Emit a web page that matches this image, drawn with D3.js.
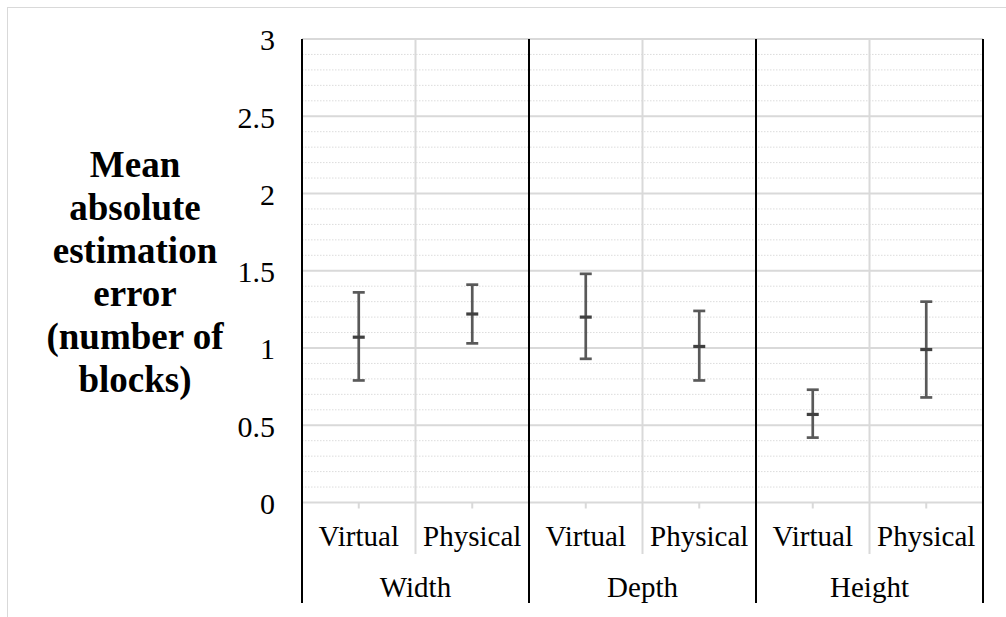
<!DOCTYPE html>
<html>
<head>
<meta charset="utf-8">
<script src="https://cdn.jsdelivr.net/npm/d3@7"></script>
<style>
  html, body { margin: 0; background: #fff; overflow: hidden; }
  svg { display: block; font-family: "Liberation Serif", "Times New Roman", serif; }
</style>
</head>
<body>
<svg id="chart" width="1006" height="617"></svg>
<script>
// ---------------- DATA ----------------
const groups = ["Width", "Depth", "Height"];
const conditions = ["Virtual", "Physical"];
// one value per group x condition, in order Width V/P, Depth V/P, Height V/P
const meanError = [1.07, 1.22, 1.20, 1.01, 0.57, 0.99];
const lowerBound = [0.79, 1.03, 0.93, 0.79, 0.42, 0.68];
const upperBound = [1.36, 1.41, 1.48, 1.24, 0.73, 1.30];
const yTicks = [0, 0.5, 1, 1.5, 2, 2.5, 3];
const yTickLabels = ["0", "0.5", "1", "1.5", "2", "2.5", "3"];
const yTitleLines = ["Mean", "absolute", "estimation", "error", "(number of", "blocks)"];

const svg = d3.select("#chart");
const serif = "'Liberation Serif', 'Times New Roman', serif";

// plot area
const plotLeft = 302, plotRight = 983, plotTop = 39, plotBottom = 502.5;

const x = d3.scaleBand().domain(groups).range([plotLeft, plotRight]);
const xInner = d3.scaleBand().domain(conditions).range([0, x.bandwidth()]);
const y = d3.scaleLinear().domain([0, 3]).range([plotBottom, plotTop]);

const points = [];
groups.forEach((g, gi) => {
  conditions.forEach((c, ci) => {
    const i = gi * conditions.length + ci;
    points.push({ group: g, cond: c, mean: meanError[i], lo: lowerBound[i], hi: upperBound[i] });
  });
});
const cx = d => x(d.group) + xInner(d.cond) + xInner.bandwidth() / 2;

// ---------------- OUTER BORDER ----------------
svg.append("rect")
  .attr("x", 7.5).attr("y", 7.5)
  .attr("width", 1010).attr("height", 620)
  .attr("fill", "none")
  .attr("stroke", "#d9d9d9");

// ---------------- MINOR GRIDLINES ----------------
const minor = d3.range(0, 3.001, 0.1).filter(v => Math.abs(v * 2 - Math.round(v * 2)) > 1e-6);
svg.append("g").selectAll("line")
  .data(minor)
  .join("line")
  .attr("x1", plotLeft).attr("x2", plotRight)
  .attr("y1", d => y(d)).attr("y2", d => y(d))
  .attr("stroke", "#dcdcdc")
  .attr("stroke-width", 1)
  .attr("stroke-dasharray", "1.5,1.5");

// ---------------- MAJOR GRIDLINES ----------------
svg.append("g").selectAll("line")
  .data(yTicks)
  .join("line")
  .attr("x1", plotLeft).attr("x2", plotRight)
  .attr("y1", d => y(d)).attr("y2", d => y(d))
  .attr("stroke", "#d9d9d9")
  .attr("stroke-width", 2);

// gray separators between Virtual and Physical
svg.append("g").selectAll("line")
  .data(groups)
  .join("line")
  .attr("x1", d => x(d) + xInner("Physical"))
  .attr("x2", d => x(d) + xInner("Physical"))
  .attr("y1", plotTop).attr("y2", 554)
  .attr("stroke", "#d9d9d9")
  .attr("stroke-width", 2);

// small ticks under each category
svg.append("g").selectAll("line")
  .data(points)
  .join("line")
  .attr("x1", cx).attr("x2", cx)
  .attr("y1", plotBottom).attr("y2", plotBottom + 6)
  .attr("stroke", "#d9d9d9")
  .attr("stroke-width", 2);

// black group separators
const groupEdges = groups.map(g => x(g)).concat([plotRight]);
svg.append("g").selectAll("line")
  .data(groupEdges)
  .join("line")
  .attr("x1", d => d).attr("x2", d => d)
  .attr("y1", plotTop).attr("y2", 603)
  .attr("stroke", "#000")
  .attr("stroke-width", 2);

// ---------------- Y AXIS LABELS ----------------
const yAxis = svg.append("g")
  .attr("transform", `translate(${plotLeft},0)`)
  .call(d3.axisLeft(y).tickValues(yTicks).tickSize(0).tickPadding(27)
    .tickFormat((d, i) => yTickLabels[i]));
yAxis.select(".domain").remove();
yAxis.selectAll("text")
  .attr("font-family", serif)
  .attr("font-size", 30)
  .attr("fill", "#000")
  .attr("dy", "0.36em");

// y title
svg.append("text")
  .attr("text-anchor", "middle")
  .attr("font-family", serif)
  .attr("font-size", 37)
  .attr("font-weight", "bold")
  .attr("fill", "#000")
  .selectAll("tspan")
  .data(yTitleLines)
  .join("tspan")
  .attr("x", 135)
  .attr("y", (d, i) => 177 + i * 43)
  .text(d => d);

// ---------------- X LABELS ----------------
svg.append("g").selectAll("text")
  .data(points)
  .join("text")
  .attr("x", cx)
  .attr("y", 546)
  .attr("text-anchor", "middle")
  .attr("font-family", serif)
  .attr("font-size", 29)
  .attr("fill", "#000")
  .text(d => d.cond);

svg.append("g").selectAll("text")
  .data(groups)
  .join("text")
  .attr("x", d => x(d) + x.bandwidth() / 2)
  .attr("y", 597)
  .attr("text-anchor", "middle")
  .attr("font-family", serif)
  .attr("font-size", 29)
  .attr("fill", "#000")
  .text(d => d);

// ---------------- ERROR BARS ----------------
const bars = svg.append("g");
const capHalf = 6;

bars.selectAll(".stem")
  .data(points)
  .join("line")
  .attr("x1", cx).attr("x2", cx)
  .attr("y1", d => y(d.hi)).attr("y2", d => y(d.lo))
  .attr("stroke", "#595959")
  .attr("stroke-width", 2.7);

bars.selectAll(".capHi")
  .data(points)
  .join("line")
  .attr("x1", d => cx(d) - capHalf).attr("x2", d => cx(d) + capHalf)
  .attr("y1", d => y(d.hi)).attr("y2", d => y(d.hi))
  .attr("stroke", "#595959")
  .attr("stroke-width", 2.7);

bars.selectAll(".capLo")
  .data(points)
  .join("line")
  .attr("x1", d => cx(d) - capHalf).attr("x2", d => cx(d) + capHalf)
  .attr("y1", d => y(d.lo)).attr("y2", d => y(d.lo))
  .attr("stroke", "#595959")
  .attr("stroke-width", 2.7);

// mean marker
bars.selectAll(".mean")
  .data(points)
  .join("line")
  .attr("x1", d => cx(d) - capHalf).attr("x2", d => cx(d) + capHalf)
  .attr("y1", d => y(d.mean)).attr("y2", d => y(d.mean))
  .attr("stroke", "#404040")
  .attr("stroke-width", 3.2);
</script>
</body>
</html>
